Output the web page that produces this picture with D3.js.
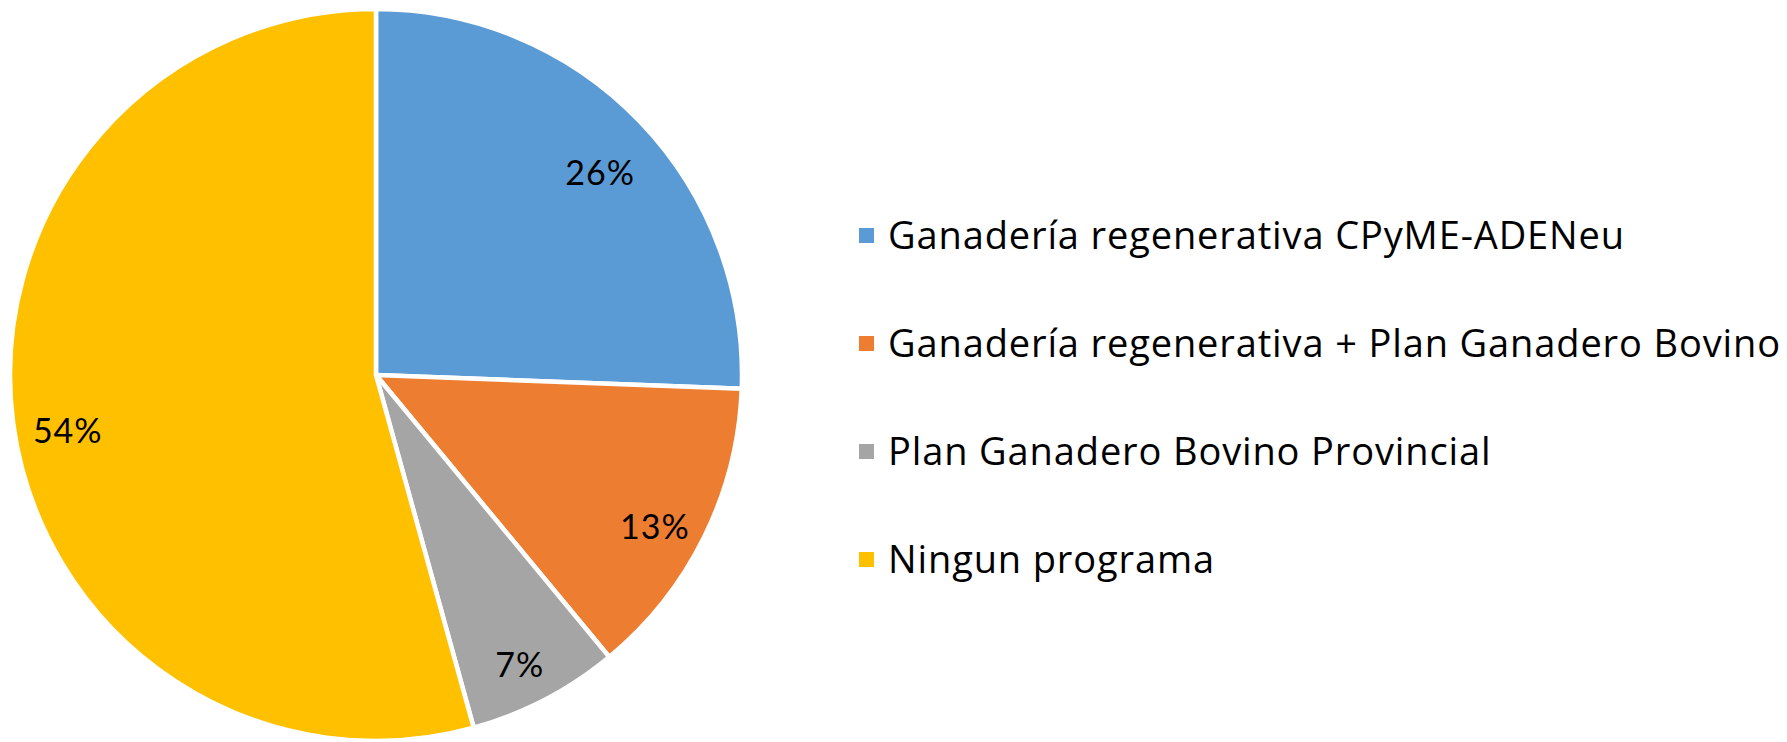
<!DOCTYPE html>
<html>
<head>
<meta charset="utf-8">
<script src="https://cdn.jsdelivr.net/npm/d3@7"></script>
<style>
  html, body { margin: 0; padding: 0; background: #ffffff; }
  svg { display: block; }
</style>
</head>
<body>
<svg id="chart" width="1787" height="742"></svg>
<script>
const categories = [
  "Ganadería regenerativa CPyME-ADENeu",
  "Ganadería regenerativa + Plan Ganadero Bovino",
  "Plan Ganadero Bovino Provincial",
  "Ningun programa"
];
const values = [25.6, 13.4, 6.7, 54.3];
const colors = ["#5B9BD5", "#ED7D31", "#A5A5A5", "#FFC000"];

const W = 1787, H = 742;
const cx = 376, cy = 375, R = 366;
const svg = d3.select("#chart");

const data = categories.map((c, i) => ({ name: c, value: values[i], color: colors[i] }));
const total = d3.sum(values);

const pie = d3.pie().value(d => d.value).sort(null);
const arcs = pie(data);
const arc = d3.arc().innerRadius(0).outerRadius(R);
const labelArc = d3.arc().innerRadius(R * 0.85).outerRadius(R * 0.85);

const g = svg.append("g").attr("transform", `translate(${cx},${cy})`);
g.selectAll("path.slice")
  .data(arcs)
  .join("path")
  .attr("class", "slice")
  .attr("d", arc)
  .attr("fill", d => d.data.color)
  .attr("stroke", "#ffffff")
  .attr("stroke-width", 4.5)
  .attr("stroke-linejoin", "round");

g.selectAll("text.lbl")
  .data(arcs)
  .join("text")
  .attr("class", "lbl")
  .attr("transform", d => { const c = labelArc.centroid(d); return `translate(${c[0]},${c[1] + 14})`; })
  .attr("text-anchor", "middle")
  .attr("dy", "0.36em")
  .attr("font-family", "Lato, 'Open Sans', sans-serif")
  .attr("font-size", 34)
  .attr("letter-spacing", 1)
  .attr("fill", "#000000")
  .text(d => Math.round(d.data.value / total * 100) + "%");

// Legend
const legX = 859, legTextX = 888, legY0 = 235.5, legStep = 108, sq = 15;
const leg = svg.append("g");
const rows = leg.selectAll("g.row")
  .data(data)
  .join("g")
  .attr("class", "row")
  .attr("transform", (d, i) => `translate(0,${legY0 + i * legStep})`);
rows.append("rect")
  .attr("x", legX)
  .attr("y", -sq / 2)
  .attr("width", sq)
  .attr("height", sq)
  .attr("fill", d => d.color);
const texts = rows.append("text")
  .attr("x", legTextX)
  .attr("y", 13.5)
  .attr("font-family", "'Open Sans', sans-serif")
  .attr("font-size", 38)
  .attr("font-weight", 500)
  .attr("fill", "#000000")
  .text(d => d.name);

// Widen letter spacing so the longest entry spans like the original
const longest = texts.nodes()[1];
const natural = longest.getComputedTextLength();
const target = 1780 - legTextX;
const ls = (target - natural) / (categories[1].length - 1);
texts.attr("letter-spacing", ls);
</script>
</body>
</html>
